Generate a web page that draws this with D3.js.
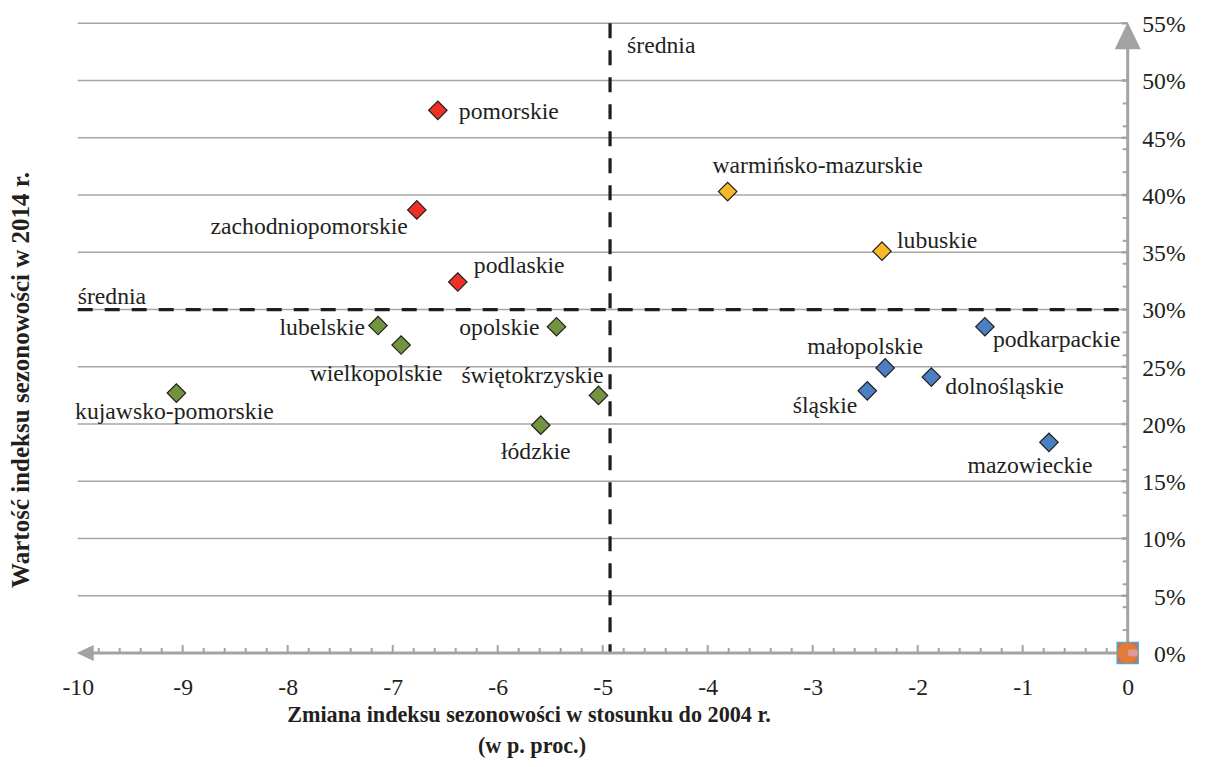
<!DOCTYPE html>
<html>
<head>
<meta charset="utf-8">
<script src="https://cdn.jsdelivr.net/npm/d3@7"></script>
<style>
  html, body { margin: 0; padding: 0; background: #fff; }
  svg { display: block; font-family: "Liberation Serif", "Times New Roman", serif; }
</style>
</head>
<body>
<svg id="chart" width="1205" height="767"></svg>
<script>
// Regions (województwa): change of seasonality index vs 2004 (p.p.) and its 2014 value (%)
const regions = ["pomorskie", "zachodniopomorskie", "podlaskie",
  "warmińsko-mazurskie", "lubuskie",
  "lubelskie", "opolskie", "wielkopolskie", "świętokrzyskie", "kujawsko-pomorskie", "łódzkie",
  "podkarpackie", "małopolskie", "dolnośląskie", "śląskie", "mazowieckie"];
const change = [-6.57, -6.77, -6.38,
  -3.81, -2.34,
  -7.14, -5.44, -6.92, -5.04, -9.06, -5.59,
  -1.36, -2.31, -1.87, -2.48, -0.75];
const value2014 = [47.4, 38.7, 32.4,
  40.3, 35.1,
  28.6, 28.5, 26.9, 22.5, 22.7, 19.9,
  28.5, 24.9, 24.1, 22.9, 18.4];
const group = ["A", "A", "A",
  "B", "B",
  "C", "C", "C", "C", "C", "C",
  "D", "D", "D", "D", "D"];

// Averages (średnia)
const meanChange = -4.93;
const meanValue = 30;

// Empty helper series sitting at the origin
const originPoints = [[0, 0]];

const xTicks = [-10, -9, -8, -7, -6, -5, -4, -3, -2, -1, 0];
const yTicks = [0, 5, 10, 15, 20, 25, 30, 35, 40, 45, 50, 55];

// ---- layout & styles ----
const groupColor = { A: "#ee3124", B: "#f7b928", C: "#72943e", D: "#4a7fc1" };
// label placement relative to its marker: [dx, dy, anchor]
const labelPlace = {
  "pomorskie": [21, 9, "start"],
  "zachodniopomorskie": [-9, 24, "end"],
  "podlaskie": [16, -9, "start"],
  "warmińsko-mazurskie": [90, -19, "middle"],
  "lubuskie": [15, -3, "start"],
  "lubelskie": [-13, 9, "end"],
  "opolskie": [-17, 8, "end"],
  "wielkopolskie": [-25, 36, "middle"],
  "świętokrzyskie": [5, -12, "end"],
  "kujawsko-pomorskie": [-2, 26, "middle"],
  "łódzkie": [-5, 34, "middle"],
  "podkarpackie": [8, 20, "start"],
  "małopolskie": [-20, -14, "middle"],
  "dolnośląskie": [14, 17, "start"],
  "śląskie": [-10, 22, "end"],
  "mazowieckie": [-19, 31, "middle"]
};

const svg = d3.select("#chart");
const x = d3.scaleLinear().domain([-10, 0]).range([77.7, 1127.7]);
const y = d3.scaleLinear().domain([0, 55]).range([653, 23.3]);

const gridColor = "#a6a6a6";
const axisColor = "#a3a3a3";
const textColor = "#231f20";
const fontSize = 23.7;

// horizontal gridlines
svg.append("g").selectAll("line")
  .data(yTicks.filter(d => d > 0))
  .join("line")
  .attr("x1", x(-10)).attr("x2", x(0))
  .attr("y1", d => y(d)).attr("y2", d => y(d))
  .attr("stroke", gridColor).attr("stroke-width", 1.6);

// average lines
const dash = "15,12";
svg.append("line")
  .attr("x1", x(-10)).attr("x2", x(0))
  .attr("y1", y(meanValue)).attr("y2", y(meanValue))
  .attr("stroke", "#1e1e1e").attr("stroke-width", 3.2).attr("stroke-dasharray", dash);
svg.append("line")
  .attr("x1", x(meanChange)).attr("x2", x(meanChange))
  .attr("y1", y(55)).attr("y2", y(0))
  .attr("stroke", "#1e1e1e").attr("stroke-width", 3.2).attr("stroke-dasharray", dash);

svg.append("text").attr("x", x(-10)).attr("y", y(meanValue) - 6)
  .attr("font-size", fontSize).attr("fill", textColor).text("średnia");
svg.append("text").attr("x", x(meanChange) + 17).attr("y", y(55) + 30)
  .attr("font-size", fontSize).attr("fill", textColor).text("średnia");

// x axis: line with arrow pointing left, minor ticks every 0.2
const axes = svg.append("g");
axes.append("line")
  .attr("x1", x(0)).attr("x2", x(-10) + 12)
  .attr("y1", y(0)).attr("y2", y(0))
  .attr("stroke", axisColor).attr("stroke-width", 3);
axes.append("path")
  .attr("d", `M${x(-10) - 1},${y(0)} L${x(-10) + 16},${y(0) - 8} L${x(-10) + 16},${y(0) + 8} Z`)
  .attr("fill", axisColor);
const xMinor = d3.range(-9.8, 0.01, 0.2).map(v => Math.round(v * 10) / 10);
axes.append("g").selectAll("line")
  .data(xMinor)
  .join("line")
  .attr("x1", d => x(d)).attr("x2", d => x(d))
  .attr("y1", y(0)).attr("y2", d => y(0) - (Number.isInteger(d) ? 8 : 5))
  .attr("stroke", axisColor).attr("stroke-width", 2);

// y axis on the right: line with arrow pointing up, minor ticks every 2%
axes.append("line")
  .attr("x1", x(0)).attr("x2", x(0))
  .attr("y1", y(0)).attr("y2", y(55) + 20)
  .attr("stroke", axisColor).attr("stroke-width", 3);
axes.append("path")
  .attr("d", `M${x(0)},${y(55) - 1} L${x(0) + 13},${y(55) + 26} L${x(0) - 13},${y(55) + 26} Z`)
  .attr("fill", axisColor);
const yMinor = d3.range(2, 51, 2);
axes.append("g").selectAll("line")
  .data(yMinor)
  .join("line")
  .attr("x1", x(0)).attr("x2", x(0) - 5)
  .attr("y1", d => y(d)).attr("y2", d => y(d))
  .attr("stroke", axisColor).attr("stroke-width", 2);
axes.append("g").selectAll("line")
  .data(yTicks.filter(d => d > 0))
  .join("line")
  .attr("x1", x(0)).attr("x2", x(0) - 6)
  .attr("y1", d => y(d)).attr("y2", d => y(d))
  .attr("stroke", axisColor).attr("stroke-width", 2.5);

// tick labels
const xAxis = d3.axisBottom(x).tickValues(xTicks).tickSize(0).tickPadding(0)
  .tickFormat(d => String(d));
const gx = svg.append("g").attr("transform", `translate(0,${y(0) + 34})`).call(xAxis);
gx.select(".domain").remove();
gx.attr("font-family", null).attr("font-size", null);
gx.selectAll("text").attr("font-size", fontSize)
  .attr("fill", textColor).attr("dy", "0.35em");

const yAxis = d3.axisRight(y).tickValues(yTicks).tickSize(0).tickPadding(0)
  .tickFormat(d => d + "%");
const gy = svg.append("g").attr("transform", `translate(${x(0) + 58},0)`).call(yAxis);
gy.select(".domain").remove();
gy.attr("font-family", null).attr("font-size", null);
gy.selectAll("text").attr("font-size", fontSize)
  .attr("fill", textColor).attr("text-anchor", "end").attr("dy", "0.35em");

// points
const pts = regions.map((name, i) => ({ name, cx: change[i], cy: value2014[i], g: group[i] }));
const diamond = d3.symbol().type(d3.symbolSquare).size(170);
svg.append("g").selectAll("path")
  .data(pts)
  .join("path")
  .attr("d", diamond)
  .attr("transform", d => `translate(${x(d.cx)},${y(d.cy)}) rotate(45)`)
  .attr("fill", d => groupColor[d.g])
  .attr("stroke", textColor).attr("stroke-width", 1.2);

svg.append("g").selectAll("text")
  .data(pts)
  .join("text")
  .attr("x", d => x(d.cx) + labelPlace[d.name][0])
  .attr("y", d => y(d.cy) + labelPlace[d.name][1])
  .attr("text-anchor", d => labelPlace[d.name][2])
  .attr("font-size", fontSize).attr("fill", textColor)
  .text(d => d.name);

// origin markers
const origin = svg.append("g").selectAll("g").data(originPoints).join("g")
  .attr("transform", d => `translate(${x(d[0])},${y(d[1])})`);
origin.append("rect").attr("x", -10.5).attr("y", -10.5).attr("width", 21).attr("height", 21)
  .attr("fill", "#c96a6a").attr("stroke", "#4bacc6").attr("stroke-width", 1.5);
origin.append("circle").attr("r", 10.5).attr("fill", "#e27b35");
origin.append("rect").attr("x", 0).attr("y", -3.5).attr("width", 10).attr("height", 7).attr("rx", 3)
  .attr("fill", "#dd9a9a");

// axis titles
const xt = svg.append("text").attr("text-anchor", "middle").attr("font-weight", "bold")
  .attr("font-size", 22.2).attr("fill", textColor);
xt.append("tspan").attr("x", 529).attr("y", 722).text("Zmiana indeksu sezonowości w stosunku do 2004 r.");
xt.append("tspan").attr("x", 532).attr("y", 753).text("(w p. proc.)");

svg.append("text")
  .attr("transform", "translate(29,380) rotate(-90)")
  .attr("text-anchor", "middle").attr("font-weight", "bold")
  .attr("font-size", 25).attr("fill", textColor)
  .text("Wartość indeksu sezonowości w 2014 r.");
</script>
</body>
</html>
